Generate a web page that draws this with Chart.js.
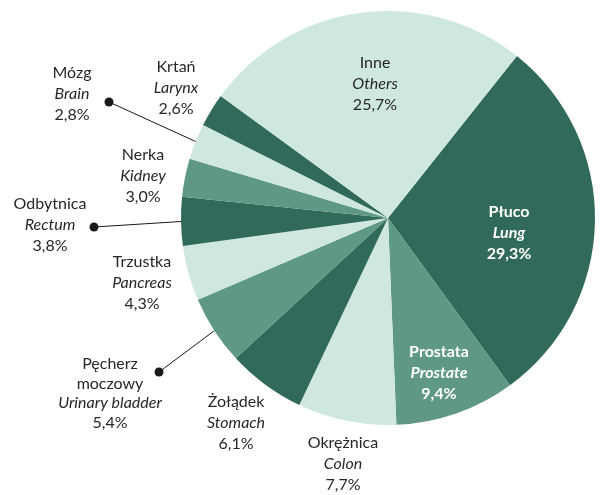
<!DOCTYPE html>
<html>
<head>
<meta charset="utf-8">
<script src="https://cdn.jsdelivr.net/npm/chart.js@4.4.1/dist/chart.umd.min.js"></script>
<style>
    html, body { margin: 0; padding: 0; background: #fff; }
    #wrap { width: 600px; height: 495px; position: relative; }
</style>
</head>
<body>
<div id="wrap"><canvas id="cancer-pie"></canvas></div>
<script>
// ─── Data ──────────────────────────────────────────────────
const namesPl = ['Płuco', 'Prostata', 'Okrężnica', 'Żołądek', 'Pęcherz\nmoczowy', 'Trzustka', 'Odbytnica', 'Nerka', 'Mózg', 'Krtań', 'Inne'];
const namesEn = ['Lung', 'Prostate', 'Colon', 'Stomach', 'Urinary bladder', 'Pancreas', 'Rectum', 'Kidney', 'Brain', 'Larynx', 'Others'];
const shares = [29.3, 9.4, 7.7, 6.1, 5.4, 4.3, 3.8, 3.0, 2.8, 2.6, 25.7];

// ─── Styling / layout ──────────────────────────────────────
const DARK = '#316a5b';
const MID = '#5f9885';
const LIGHT = '#cee8df';
const sliceColors = [DARK, MID, LIGHT, DARK, MID, LIGHT, DARK, MID, LIGHT, DARK, LIGHT];

// label block: centre x, first line y, white/bold inside slice, optional leader dot
const labelLayout = [
    { x: 509, y: 212, inside: true },
    { x: 439, y: 352, inside: true },
    { x: 343, y: 443 },
    { x: 236, y: 402 },
    { x: 110, y: 364, dot: [159, 372] },
    { x: 142, y: 262 },
    { x: 50,  y: 204, dot: [94, 227] },
    { x: 143, y: 155 },
    { x: 72,  y: 73,  dot: [109, 102] },
    { x: 176, y: 67 },
    { x: 375, y: 63 }
];
const LINE_H = 21;
const FONT = '"Lato", "Noto Sans", sans-serif';

const fmtPct = v => v.toFixed(1).replace('.', ',') + '%';

const labelPlugin = {
    id: 'sliceLabels',
    afterDatasetsDraw(chart) {
        const ctx = chart.ctx;
        const arcs = chart.getDatasetMeta(0).data;
        ctx.save();
        ctx.textAlign = 'center';
        ctx.textBaseline = 'middle';

        labelLayout.forEach((lay, i) => {
            const arc = arcs[i];
            // leader line from dot to the rim at the slice's middle angle
            if (lay.dot) {
                const mid = (arc.startAngle + arc.endAngle) / 2;
                const rx = arc.x + Math.cos(mid) * arc.outerRadius;
                const ry = arc.y + Math.sin(mid) * arc.outerRadius;
                ctx.strokeStyle = '#1a1a1a';
                ctx.lineWidth = 1;
                ctx.beginPath();
                ctx.moveTo(lay.dot[0], lay.dot[1]);
                ctx.lineTo(rx, ry);
                ctx.stroke();
                ctx.fillStyle = '#1a1a1a';
                ctx.beginPath();
                ctx.arc(lay.dot[0], lay.dot[1], 4.5, 0, Math.PI * 2);
                ctx.fill();
            }

            const weight = lay.inside ? 'bold ' : '';
            ctx.fillStyle = lay.inside ? '#ffffff' : '#2a2627';
            const lines = namesPl[i].split('\n').map(t => ({ t, style: '' }));
            lines.push({ t: namesEn[i], style: 'italic ' });
            lines.push({ t: fmtPct(shares[i]), style: '' });

            const step = namesPl[i].includes('\n') ? 19.5 : LINE_H;
            lines.forEach((ln, k) => {
                ctx.font = `${ln.style}${weight}16px ${FONT}`;
                ctx.fillText(ln.t, lay.x, lay.y + k * step);
            });
        });
        ctx.restore();
    }
};

new Chart(document.getElementById('cancer-pie'), {
    type: 'pie',
    data: {
        labels: namesPl,
        datasets: [{
            data: shares,
            backgroundColor: sliceColors,
            borderWidth: 0
        }]
    },
    options: {
        responsive: true,
        maintainAspectRatio: false,
        animation: false,
        rotation: 38.5,
        layout: { padding: { left: 181, right: 5, top: 11, bottom: 70 } },
        plugins: {
            legend: { display: false },
            tooltip: { enabled: false }
        }
    },
    plugins: [labelPlugin]
});
</script>
</body>
</html>
